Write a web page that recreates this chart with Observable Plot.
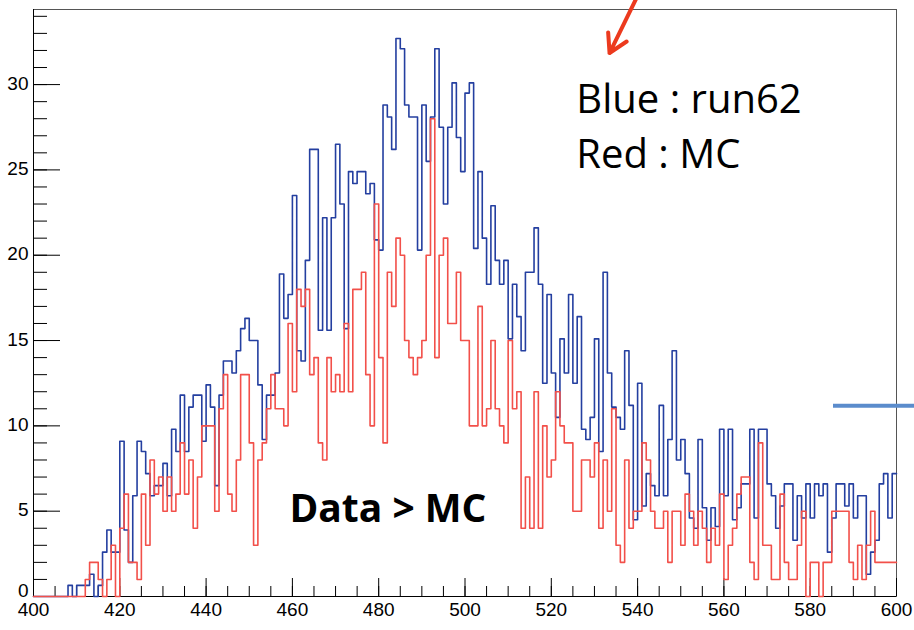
<!DOCTYPE html>
<html><head><meta charset="utf-8">
<script src="https://cdn.jsdelivr.net/npm/d3@7"></script>
<script src="https://cdn.jsdelivr.net/npm/@observablehq/plot@0.6"></script>
<style>
html,body{margin:0;padding:0;background:#fff;}
#chart{width:914px;height:630px;overflow:hidden;}
</style></head><body><div id="chart"></div>
<script>
// Histogram: 200 bins of width 1 from 400 to 600
const binStart = 400;
const binWidth = 1;

// Blue : run62 (data)
const blueRun62 = [
 0,0,0,0,0,0,0,0,0.65,0,
 0.65,0.65,0.65,1.3,0,0.65,2.6,3.9,2.6,2.6,
 9.1,3.9,2.0,5.9,9.1,8.5,7.2,5.9,6.5,6.5,
 7.8,5.9,9.8,8.5,11.8,8.5,11.1,11.8,11.8,9.1,
 12.4,11.1,6.5,11.8,13.8,13.8,13.1,14.4,15.7,16.3,
 15.0,15.0,12.4,9.2,11.8,11.8,13.1,18.9,16.3,17.7,
 23.5,14.4,13.8,19.7,26.2,26.2,15.6,22.2,15.6,22.2,
 26.5,23.0,15.7,24.9,24.2,24.9,24.9,23.6,24.2,20.9,
 20.3,28.8,28.1,26.2,32.7,32.1,28.8,28.1,28.1,20.3,
 28.8,25.5,28.1,32.1,27.5,23.0,27.5,30.1,26.9,24.9,
 29.5,30.1,20.4,24.9,21.0,18.3,22.9,19.7,18.3,19.7,
 15.1,18.3,16.4,14.4,19.0,19.0,21.6,18.3,12.5,17.7,
 13.1,10.5,15.1,13.1,17.7,12.5,16.4,9.8,9.2,10.5,
 15.1,8.5,19.0,13.1,11.1,10.5,9.8,14.4,11.2,4.5,
 12.5,5.3,7.2,6.5,5.9,11.2,5.9,9.2,14.4,8.0,
 9.2,7.2,4.6,4.0,9.2,5.2,3.3,5.2,4.1,9.8,
 5.9,9.8,4.5,5.2,6.6,6.6,9.8,4.6,9.8,9.8,
 6.6,5.9,4.0,5.3,6.6,6.6,3.3,5.9,4.6,6.6,
 4.6,6.6,5.9,6.6,2.6,4.6,6.6,6.6,5.3,6.6,
 4.6,5.9,5.9,1.3,2.6,3.3,6.6,7.2,4.6,7.2
];

// Red : MC
const redMC = [
 0,0,0,0,0,0,0,0,0,0,
 0,0,1,2,2,1,0,1,3,0,
 4,6,2,2,1,6,3,8,6,7,
 5,7,5,6,9,6,8,4,7,10,
 10,10,5,11,13,6,5,8,13,13,
 9,3,8,9,11,13,11,11,10,16,
 12,18,17,18,13,14,9,8,14,12,
 13,12,16,12,18,18,19,13,10,23,
 14,9,19,17,21,20,15,14,13,14,
 15,20,28,14,20,21,16,16,19,15,
 15,10,10,17,10,11,15,11,10,9,
 15,11,12,4,7,4,12,4,10,7,
 8,12,10,9,9,5,5,8,8,7,
 9,4,8,5,11,3,2,8,4,5,
 5,9,8,5,4,4,5,2,5,5,
 3,6,5,3,5,4,2,4,3,6,
 1,3,4,6,7,7,2,1,9,3,
 3,1,1,6,2,1,1,3,5,0,
 2,2,0,2,2,5,5,5,5,2,
 1,3,1,3,5,2,2,2,2,2
];

const yTickLabels = [0, 5, 10, 15, 20, 25, 30];
const xTickLabels = [400, 420, 440, 460, 480, 500, 520, 540, 560, 580, 600];
const yMinorTicks = d3.range(0, 35, 1);
const xMinorTicks = d3.range(400, 601, 5);

const legendTexts = [
  {x: 525.8, y: 28.34, text: "Blue : run62"},
  {x: 525.8, y: 25.12, text: "Red : MC"}
];
const noteText = [{x: 459.3, y: 4.39, text: "Data > MC"}];
const arrowNote = [{x1: 539.8, y1: 35.1, x2: 533.5, y2: 31.85}];
const blueDash = [{y: 11.18, x1: 585.4, x2: 604.2}];

function steps(values) {
  const pts = values.map((v, i) => ({x: binStart + i * binWidth, y: v}));
  pts.push({x: binStart + values.length * binWidth, y: values[values.length - 1]});
  return pts;
}

const W = 914, H = 630, mL = 33, mR = 18, mT = 9, mB = 34;
const plotW = W - mL - mR, plotH = H - mT - mB;

const chart = Plot.plot({
  width: W, height: H,
  marginLeft: mL, marginRight: mR, marginTop: mT, marginBottom: mB,
  x: {domain: [400, 600]},
  y: {domain: [0, 34.4]},
  style: {fontFamily: "'Liberation Sans', Arial, sans-serif", background: "#fff", color: "#000"},
  marks: [
    Plot.frame({stroke: "#555", strokeWidth: 1}),
    Plot.tickY(yMinorTicks, {y: d => d, insetRight: plotW - 14, stroke: "#000"}),
    Plot.tickY(yTickLabels, {y: d => d, insetRight: plotW - 27, stroke: "#000"}),
    Plot.tickX(xMinorTicks, {x: d => d, insetTop: plotH - 10, stroke: "#000"}),
    Plot.tickX(xTickLabels, {x: d => d, insetTop: plotH - 18, stroke: "#000"}),
    Plot.ruleX([400], {stroke: "#000"}),
    Plot.ruleY([0], {stroke: "#000"}),
    Plot.axisY({ticks: yTickLabels.slice(1), tickSize: 0, tickPadding: 5, dy: -1, fontSize: 19, label: null}),
    Plot.axisY({ticks: yTickLabels.slice(0, 1), tickSize: 0, tickPadding: 5, dy: -6, fontSize: 19, label: null}),
    Plot.axisX({ticks: xTickLabels, tickSize: 0, tickPadding: 6, fontSize: 19, label: null}),
    Plot.line(steps(blueRun62), {x: "x", y: "y", curve: "step-after", stroke: "#243fa0", strokeWidth: 1.6}),
    Plot.line(steps(redMC), {x: "x", y: "y", curve: "step-after", stroke: "#f2504a", strokeWidth: 1.6}),
    Plot.text(legendTexts, {x: "x", y: "y", text: "text", textAnchor: "start", lineAnchor: "bottom",
      fontSize: 40, fontFamily: "'Open Sans', Lato, sans-serif", fill: "#000"}),
    Plot.text(noteText, {x: "x", y: "y", text: "text", textAnchor: "start", lineAnchor: "bottom",
      fontSize: 39, fontWeight: "bold", fontFamily: "'Open Sans', Lato, sans-serif", fill: "#000"}),
    Plot.arrow(arrowNote, {x1: "x1", y1: "y1", x2: "x2", y2: "y2", stroke: "#ec3a1e", strokeWidth: 4,
      headLength: 24, headAngle: 60, strokeLinecap: "round"}),
    Plot.ruleY(blueDash, {y: "y", x1: "x1", x2: "x2", stroke: "#5b8ccc", strokeWidth: 4})
  ]
});
document.getElementById("chart").appendChild(chart);
</script>
</body></html>
